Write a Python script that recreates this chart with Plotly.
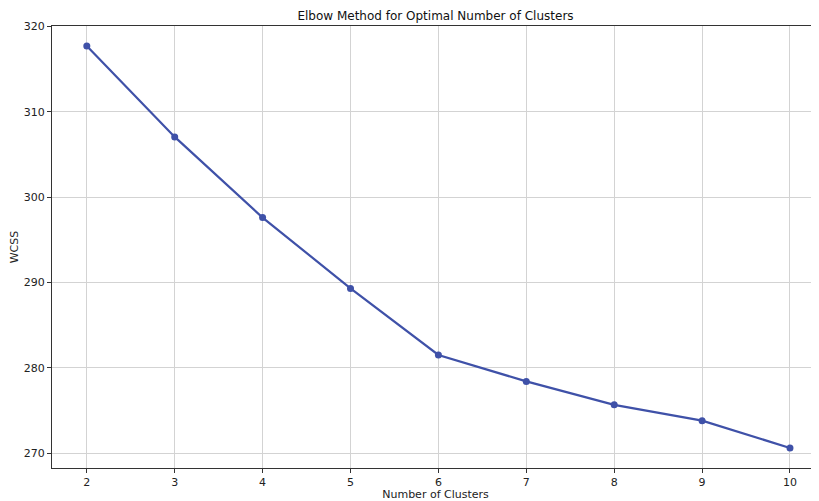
import plotly.graph_objects as go

clusters = [2, 3, 4, 5, 6, 7, 8, 9, 10]
wcss = [317.7, 307.05, 297.6, 289.3, 281.5, 278.4, 275.65, 273.8, 270.6]
x_ticks = [2, 3, 4, 5, 6, 7, 8, 9, 10]
y_ticks = [270, 280, 290, 300, 310, 320]

font = "DejaVu Sans"
W, H = 811, 493  # page body has an 8px margin
fig = go.Figure()
fig.add_trace(go.Scatter(
    x=clusters, y=wcss, mode="lines+markers",
    line=dict(color="#3F51A8", width=2.2),
    marker=dict(color="#3F51A8", size=7),
    cliponaxis=False,
))
fig.update_layout(
    width=W, height=H,
    margin=dict(l=41, r=0, t=18, b=32),
    paper_bgcolor="white", plot_bgcolor="white",
    showlegend=False,
    font=dict(family=font, size=11, color="#222"),
    title=dict(text="Elbow Method for Optimal Number of Clusters",
               x=0.5, xanchor="center", xref="paper", y=1 - 8/H, yanchor="middle",
               font=dict(family=font, size=12, color="#111")),
)
fig.update_xaxes(
    range=[1.604, 10.33], tickvals=x_ticks, ticktext=[str(v) for v in x_ticks],
    showgrid=True, gridcolor="#d3d3d3", gridwidth=1,
    showline=True, linecolor="#333", linewidth=1, mirror=True,
    ticks="outside", ticklen=4, tickcolor="#333",
    zeroline=False,
    title=dict(text="Number of Clusters", font=dict(family=font, size=11), standoff=4),
)
fig.update_yaxes(
    range=[268.25, 320.05], tickvals=y_ticks, ticktext=[str(v) for v in y_ticks],
    showgrid=True, gridcolor="#d3d3d3", gridwidth=1,
    showline=True, linecolor="#333", linewidth=1, mirror=False,
    ticks="outside", ticklen=4, tickcolor="#333",
    zeroline=False,
    title=dict(text="WCSS", font=dict(family=font, size=11), standoff=8),
)
fig.write_html("out.html")
